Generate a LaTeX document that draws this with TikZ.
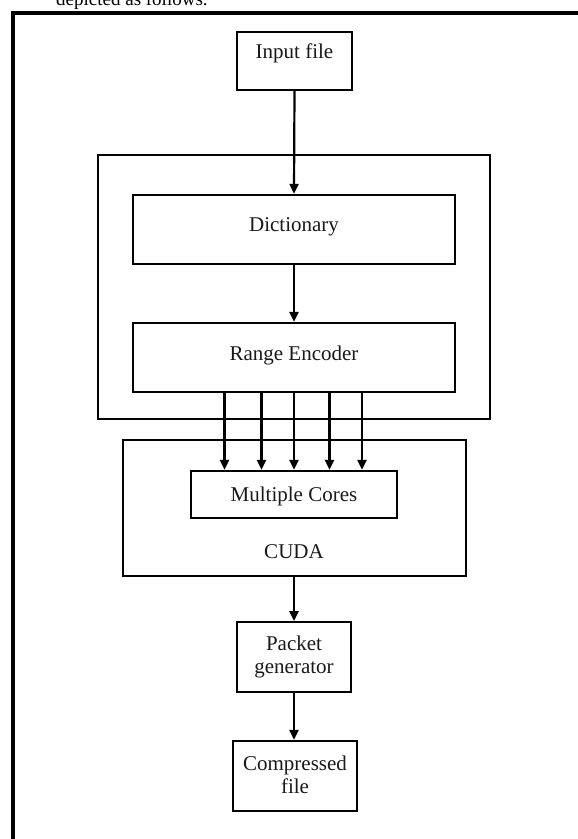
\documentclass[tikz,border=0pt]{standalone}
\usepackage{fontspec}
\setmainfont{Liberation Serif}
\usetikzlibrary{arrows.meta}
\begin{document}
\begin{tikzpicture}[x=1pt,y=-1pt,
  box/.style={draw, line width=2.3pt, inner sep=0pt},
  lbl/.style={font=\fontsize{21}{23.5}\selectfont, align=center, inner sep=0pt, text=black!90},
  arr/.style={line width=2.2pt, -{Triangle[length=10pt,width=9pt]}}]
\useasboundingbox (0,0) rectangle (578,839);
% cut-off caption line and frame
\node[anchor=base west, font=\fontsize{19}{22}\selectfont, inner sep=0pt] (cap) at (56,5) {depicted as follows.};
\draw[line width=4pt] (12.5,850) -- (12.5,12.5) -- (590,12.5);
% boxes
\node[box, minimum width=115pt, minimum height=58pt] (in) at (294.5,61) {};
\node[lbl] (inl) at (294.5,53) {Input file};
\node[box, minimum width=392pt, minimum height=264pt] (enc) at (294,287) {};
\node[box, minimum width=322pt, minimum height=69pt] (dict) at (294,229.5) {};
\node[lbl] (dictl) at (294,227) {Dictionary};
\node[box, minimum width=322pt, minimum height=69pt] (range) at (294,357.5) {};
\node[lbl] (rangel) at (294,355) {Range Encoder};
\node[box, minimum width=343pt, minimum height=136pt] (cuda) at (294.5,508) {};
\node[box, minimum width=206pt, minimum height=47pt] (multi) at (294,494.5) {};
\node[lbl] (multil) at (294,496) {Multiple Cores};
\node[lbl] (cudal) at (294,552) {CUDA};
\node[box, minimum width=114.5pt, minimum height=69.5pt] (packet) at (294,657) {};
\node[lbl] (packetl) at (294,657) {Packet\\generator};
\node[box, minimum width=124.5pt, minimum height=70pt] (comp) at (295,776) {};
\node[lbl] (compl) at (295,775) {Compressed\\file};
% connectors
\draw[arr] (in.south) -- (dict.north);
\draw[arr] (dict.south) -- (range.north);
\foreach \i/\xx in {1/224.5, 2/261.5, 3/294, 4/329.5, 5/362} {
  \coordinate (c\i) at (\xx,0);
  \draw[arr] (range.south -| c\i) -- (multi.north -| c\i);
}
\draw[arr] (cuda.south -| packet.north) -- (packet.north);
\draw[arr] (packet.south) -- (comp.north -| packet.south);
\end{tikzpicture}
\end{document}
